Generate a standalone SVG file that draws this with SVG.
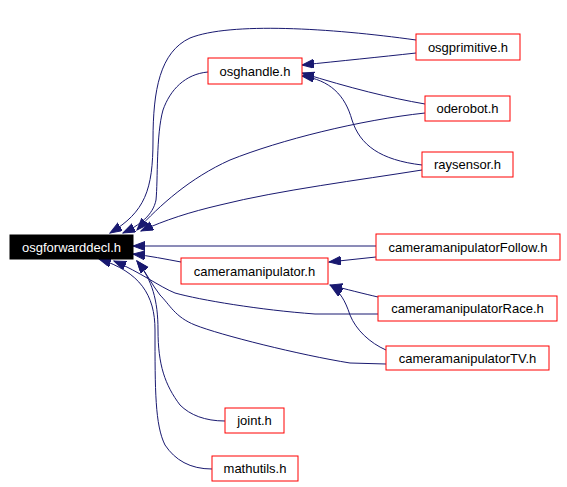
<svg xmlns="http://www.w3.org/2000/svg" width="567" height="487" viewBox="0 0 567 487">
<style>
.n rect{fill:#fff;stroke:#f00;stroke-width:1}
.n text{font-family:"Liberation Sans",Arial,sans-serif;font-size:13px;text-anchor:middle;fill:#000}
#fwd rect{fill:#000;stroke:#000}
#fwd text{fill:#fff}
.e path{fill:none;stroke:#191970;stroke-width:1;marker-end:url(#ah)}
</style>
<defs>
<marker id="ah" markerUnits="userSpaceOnUse" markerWidth="13" markerHeight="10" refX="12" refY="4.5" orient="auto">
<path d="M0,0 L12,4.5 L0,9 z" fill="#191970" stroke="#191970"/>
</marker>
</defs>
<rect width="567" height="487" fill="#fff"/>
<g id="edges" class="e">
<path d="M416,40 C330,28 230,22 190,38 C160,52 153,90 153,140 C153,190 145,212 110,233"/>
<path d="M208,72 C185,74 170,90 163,110 C156,135 158,180 156,200 C153,215 140,225 123,233"/>
<path d="M425,113 C360,120 280,140 230,160 C190,178 160,205 137,230"/>
<path d="M422,170 C360,180 280,190 220,205 C190,212 165,220 141,231"/>
<path d="M416,53 C380,57 340,61 302,65"/>
<path d="M425,104 C390,98 350,88 302,73"/>
<path d="M422,165 C380,160 360,145 352,120 C345,95 330,80 302,76"/>
<path d="M376,246 L133,246"/>
<path d="M181,262 C165,259 150,256 133,254"/>
<path d="M376,257 L329,262"/>
<path d="M378,297 C365,294 345,289 330,285"/>
<path d="M386,350 C370,343 356,330 350,315 C345,300 340,292 331,286"/>
<path d="M378,314 L315,314 C260,310 200,300 175,293 C160,287 140,272 114,261"/>
<path d="M386,364 L350,363 C300,355 220,335 195,325 C175,317 170,305 160,295 C152,285 146,272 137,261"/>
<path d="M225,421 C205,421 190,415 180,405 C165,385 158,365 158,330 C158,300 152,280 137,261"/>
<path d="M212,469 C190,469 175,460 165,445 C155,425 155,390 155,330 C155,295 140,272 99,259"/>
</g>
<g id="fwd" class="n"><rect x="10" y="235" width="123" height="24"/><text x="71.5" y="251.5">osgforwarddecl.h</text></g>
<g id="osghandle" class="n"><rect x="208" y="58" width="94" height="26"/><text x="255" y="75.5">osghandle.h</text></g>
<g id="osgprimitive" class="n"><rect x="416" y="34" width="104" height="26"/><text x="468" y="51.5">osgprimitive.h</text></g>
<g id="oderobot" class="n"><rect x="425" y="96" width="85" height="25"/><text x="467.5" y="113">oderobot.h</text></g>
<g id="raysensor" class="n"><rect x="422" y="152" width="91" height="25"/><text x="467.5" y="169">raysensor.h</text></g>
<g id="cameramanipulator" class="n"><rect x="181" y="258" width="147" height="26"/><text x="254.5" y="275.5">cameramanipulator.h</text></g>
<g id="follow" class="n"><rect x="376" y="234" width="184" height="26"/><text x="468" y="251.5">cameramanipulatorFollow.h</text></g>
<g id="race" class="n"><rect x="378" y="296" width="179" height="25"/><text x="467.5" y="313">cameramanipulatorRace.h</text></g>
<g id="tv" class="n"><rect x="386" y="346" width="163" height="24"/><text x="467.5" y="362.5">cameramanipulatorTV.h</text></g>
<g id="joint" class="n"><rect x="225" y="408" width="59" height="25"/><text x="254.5" y="425">joint.h</text></g>
<g id="mathutils" class="n"><rect x="212" y="456" width="86" height="25"/><text x="255" y="473">mathutils.h</text></g>
</svg>
